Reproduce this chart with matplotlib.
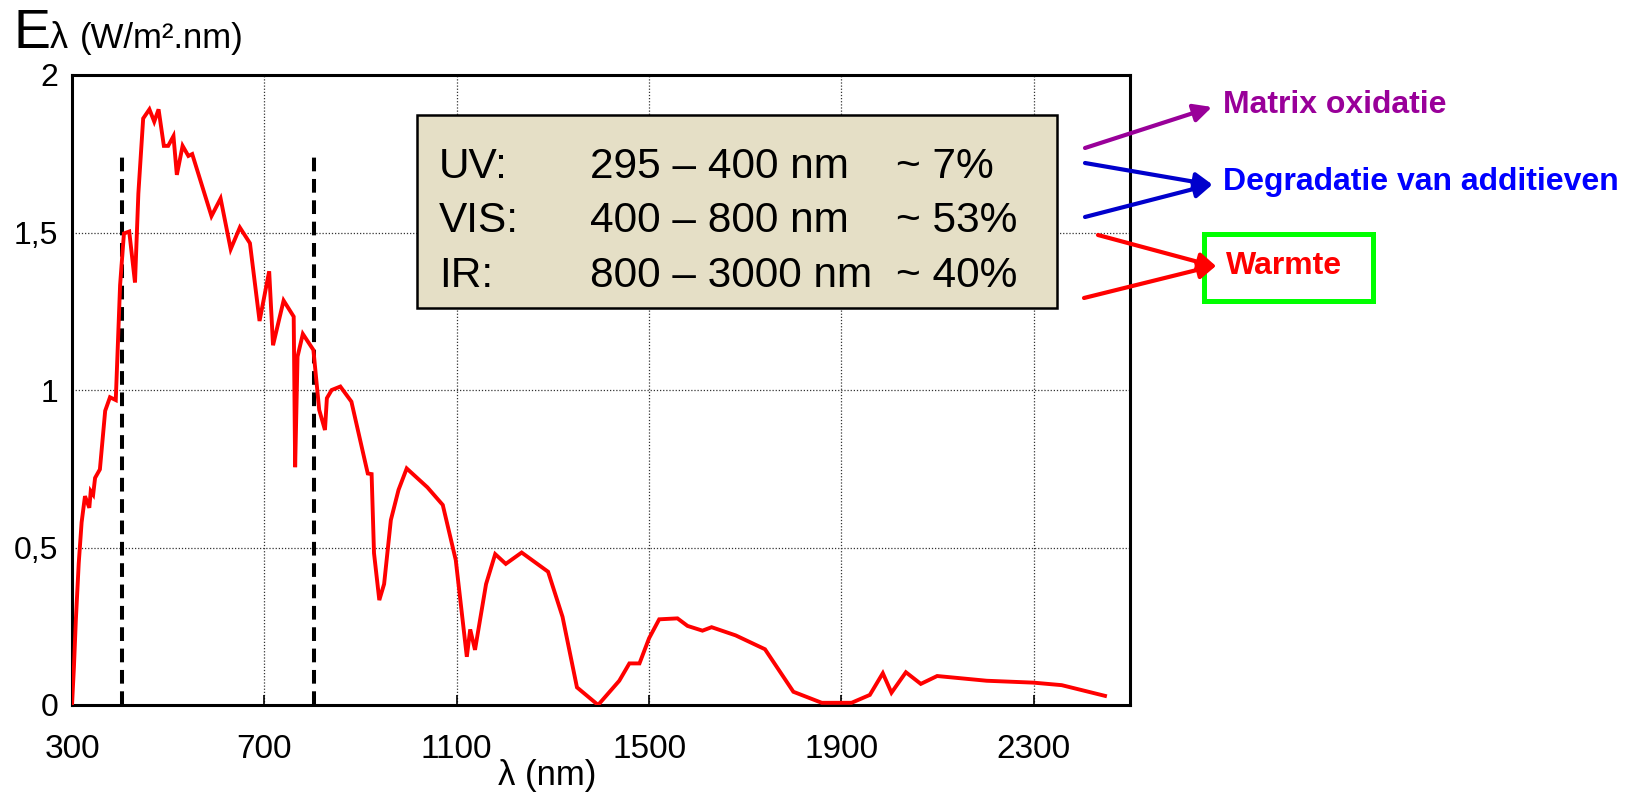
import matplotlib
matplotlib.use("Agg")
import matplotlib.pyplot as plt
from matplotlib import font_manager as fm
from matplotlib.patches import Rectangle, FancyArrowPatch

# ---------------- data ----------------
wavelength = [300, 304, 308, 314, 320, 327, 336, 339, 344, 348, 358, 369, 379, 391,
              400, 408, 419, 431, 438, 448, 461, 471, 480, 491, 500, 511, 518, 530,
              542, 550, 590, 609, 630, 649, 670, 690, 710, 718, 740, 761, 764, 769,
              780, 802, 814, 826, 830, 840, 858, 881, 915, 923, 928, 939, 949, 963,
              979, 996, 1039, 1071, 1098, 1121, 1128, 1138, 1161, 1180, 1202, 1235,
              1290, 1320, 1350, 1394, 1438, 1459, 1480, 1500, 1521, 1559, 1580, 1611,
              1630, 1680, 1741, 1800, 1859, 1921, 1959, 1986, 2004, 2034, 2065, 2099,
              2202, 2299, 2358, 2448]
irradiance = [0.0, 0.12, 0.27, 0.45, 0.58, 0.663, 0.626, 0.679, 0.668, 0.721, 0.748,
              0.934, 0.977, 0.968, 1.333, 1.497, 1.503, 1.341, 1.624, 1.862, 1.891,
              1.852, 1.891, 1.775, 1.775, 1.806, 1.683, 1.775, 1.743, 1.749, 1.552,
              1.608, 1.447, 1.516, 1.466, 1.219, 1.377, 1.142, 1.284, 1.233, 0.755,
              1.106, 1.178, 1.127, 0.937, 0.873, 0.974, 1.0, 1.011, 0.963, 0.735,
              0.733, 0.482, 0.333, 0.384, 0.587, 0.683, 0.751, 0.691, 0.635, 0.460,
              0.153, 0.240, 0.175, 0.384, 0.479, 0.448, 0.484, 0.423, 0.280, 0.056,
              0.0, 0.077, 0.132, 0.132, 0.212, 0.272, 0.275, 0.251, 0.236, 0.247,
              0.221, 0.177, 0.042, 0.007, 0.007, 0.032, 0.101, 0.039, 0.104, 0.067,
              0.092, 0.077, 0.071, 0.063, 0.029]

band_edges = [405, 803]
band_top = 1.74

x_ticks = [300, 700, 1100, 1500, 1900, 2300]
y_ticks = [0, 0.5, 1, 1.5, 2]
y_tick_labels = ["0", "0,5", "1", "1,5", "2"]

box_rows = [("UV:", "295 \u2013 400 nm", "~ 7%"),
            ("VIS:", "400 \u2013 800 nm", "~ 53%"),
            ("IR:", "800 \u2013 3000 nm", "~ 40%")]

effects = ["Matrix oxidatie", "Degradatie van additieven", "Warmte"]
effect_colors = ["#990099", "#0000FF", "#FF0000"]

# ---------------- fonts ----------------
names = {f.name for f in fm.fontManager.ttflist}
SANS = "Liberation Sans" if "Liberation Sans" in names else "DejaVu Sans"
NARROW = "Liberation Sans Narrow" if "Liberation Sans Narrow" in names else SANS
plt.rcParams["font.family"] = [SANS, "DejaVu Sans"]

W, H = 1630, 792
fig = plt.figure(figsize=(W / 100, H / 100), dpi=100)
fig.patch.set_facecolor("white")


def fx(px):
    return px / W


def fy(py):
    return 1 - py / H


ax = fig.add_axes([fx(72), fy(705), (1130 - 72) / W, (705 - 75) / H])
ax.set_xlim(300, 2500)
ax.set_ylim(0, 2)

ax.plot(wavelength, irradiance, color="#FF0000", lw=2.8, zorder=3, solid_joinstyle="miter")
for xe in band_edges:
    ax.plot([xe, xe], [0, band_top], color="black", lw=2.9,
            linestyle=(0, (3.4, 1.9)), zorder=2)

ax.set_xticks(x_ticks)
ax.set_xticklabels([str(v) for v in x_ticks], fontsize=24, family=[NARROW, SANS])
ax.set_yticks(y_ticks)
ax.set_yticklabels(y_tick_labels, fontsize=23)
ax.tick_params(axis="x", direction="in", length=7, width=1.2, pad=21)
ax.tick_params(axis="y", length=0, pad=10)
ax.grid(True, color="#333333", lw=0.9, linestyle=(0, (1, 1.5)), zorder=1)
for s in ax.spines.values():
    s.set_linewidth(2.2)
    s.set_color("black")

# x label
fig.text(fx(547), fy(776), "\u03bb (nm)", fontsize=25, family=[NARROW, SANS],
         ha="center", va="center")
# y label
fig.text(fx(13), fy(48), "E", fontsize=40, ha="left", va="baseline")
fig.text(fx(50), fy(48), "\u03bb", fontsize=26, ha="left", va="baseline")
fig.text(fx(80), fy(48), "(W/m\u00b2.nm)", fontsize=25, ha="left", va="baseline")

# info box
box = Rectangle((fx(417), fy(308)), fx(1057) - fx(417), fy(115) - fy(308),
                transform=fig.transFigure, facecolor="#E5DFC6", edgecolor="black",
                lw=1.8, zorder=5)
fig.patches.append(box)
row_base = [178, 232, 287]
col_x = [439, 590, 896]
for (a, b, c), yb in zip(box_rows, row_base):
    for txt, xc in zip((a, b, c), col_x):
        fig.text(fx(xc), fy(yb), txt, fontsize=30.5, ha="left", va="baseline", zorder=6)

# effects on the right
text_pos = [(1223, 105), (1223, 182), (1226, 266)]
for label, col, (tx, ty) in zip(effects, effect_colors, text_pos):
    fig.text(fx(tx), fy(ty), label, fontsize=23, fontweight="bold", color=col,
             ha="left", va="center", zorder=6)

arrows = [((1085, 148), (1212, 107), "#990099"),
          ((1085, 163), (1213, 185), "#0000CC"),
          ((1085, 217), (1213, 184), "#0000CC"),
          ((1098, 235), (1217, 267), "#FF0000"),
          ((1084, 298), (1217, 265), "#FF0000")]
for (x0, y0), (x1, y1), col in arrows:
    fig.add_artist(FancyArrowPatch(
        (fx(x0), fy(y0)), (fx(x1), fy(y1)), transform=fig.transFigure,
        arrowstyle="-|>", mutation_scale=27, lw=3, color=col,
        shrinkA=0, shrinkB=0, zorder=7))

green = Rectangle((fx(1204), fy(301)), fx(1373) - fx(1204), fy(234) - fy(301),
                  transform=fig.transFigure, facecolor="none", edgecolor="#00FF00",
                  lw=3.6, zorder=5)
fig.patches.append(green)

fig.savefig("out.png", dpi=100, facecolor="white")
